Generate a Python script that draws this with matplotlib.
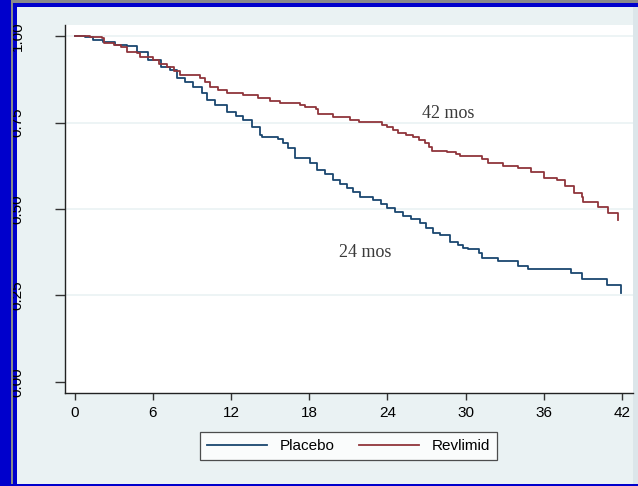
import matplotlib
matplotlib.use("Agg")
import matplotlib.pyplot as plt
from matplotlib.patches import Rectangle

# Kaplan-Meier step knots (months, survival)
placebo_t = [0, 0.8, 1.4, 2.2, 3.1, 4.0, 4.8, 5.6, 6.6, 7.3, 7.9, 8.5, 9.1, 9.8,
             10.2, 10.8, 11.7, 12.4, 12.9, 13.6, 14.2, 14.4, 15.6, 16.0, 16.4, 16.9,
             18.1, 18.6, 19.2, 19.8, 20.4, 20.9, 21.4, 21.9, 22.9, 23.5, 24.0, 24.6,
             25.2, 25.8, 26.5, 27.0, 27.5, 28.05, 28.8, 29.4, 29.8, 30.2, 31.0, 31.3,
             32.5, 34.0, 34.8, 38.1, 38.9, 40.85, 41.9]
placebo_s = [1.0, 0.997, 0.988, 0.983, 0.974, 0.971, 0.954, 0.931, 0.910, 0.902, 0.879,
             0.866, 0.853, 0.835, 0.815, 0.800, 0.780, 0.770, 0.757, 0.737, 0.714, 0.708,
             0.702, 0.690, 0.676, 0.647, 0.633, 0.613, 0.600, 0.584, 0.572, 0.561, 0.548,
             0.535, 0.526, 0.515, 0.503, 0.492, 0.480, 0.470, 0.460, 0.445, 0.431, 0.425,
             0.405, 0.396, 0.387, 0.384, 0.373, 0.358, 0.350, 0.335, 0.327, 0.315, 0.298,
             0.280, 0.257]

revlimid_t = [0, 1.2, 2.1, 2.3, 3.0, 3.6, 4.0, 4.8, 5.0, 6.0, 6.5, 7.1, 7.6, 8.1, 9.6,
              10.0, 10.4, 11.0, 11.7, 12.9, 14.1, 15.0, 15.8, 17.3, 17.7, 18.5, 18.7,
              19.8, 21.1, 21.8, 23.6, 24.0, 24.4, 24.8, 25.4, 26.0, 26.4, 26.9, 27.2,
              27.4, 28.6, 29.3, 29.6, 31.3, 31.7, 32.9, 34.0, 35.0, 36.0, 37.0, 37.6,
              38.3, 38.9, 39.0, 40.2, 40.9, 41.7]
revlimid_s = [1.0, 0.997, 0.994, 0.980, 0.974, 0.968, 0.954, 0.951, 0.939, 0.931, 0.920,
              0.910, 0.898, 0.887, 0.879, 0.866, 0.853, 0.843, 0.835, 0.829, 0.821, 0.812,
              0.806, 0.800, 0.795, 0.789, 0.775, 0.766, 0.757, 0.751, 0.743, 0.737, 0.728,
              0.720, 0.714, 0.708, 0.699, 0.691, 0.679, 0.668, 0.665, 0.659, 0.653, 0.645,
              0.633, 0.624, 0.618, 0.607, 0.590, 0.584, 0.566, 0.546, 0.535, 0.520, 0.506,
              0.488, 0.468]

x_ticks = [0, 6, 12, 18, 24, 30, 36, 42]
y_ticks = [0.0, 0.25, 0.5, 0.75, 1.0]
y_labels = ["0.00", "0.25", "0.50", "0.75", "1.00"]

bg = "#EAF2F3"
blue = "#1A476F"
red = "#90353B"

plt.rcParams["font.family"] = ["Liberation Sans", "DejaVu Sans"]

fig = plt.figure(figsize=(6.38, 4.86), dpi=100, facecolor=bg)
ax = fig.add_axes([65 / 638, 1 - 393 / 486, 568 / 638, 368 / 486])
ax.set_facecolor("white")

ax.plot(placebo_t, placebo_s, drawstyle="steps-post", color=blue, lw=1.3, label="Placebo")
ax.plot(revlimid_t, revlimid_s, drawstyle="steps-post", color=red, lw=1.3, label="Revlimid")

ax.set_xlim(-0.73, 42.85)
ax.set_ylim(-0.032, 1.032)
ax.set_xticks(x_ticks)
ax.set_yticks(y_ticks)
ax.set_yticklabels(y_labels)

for side in ["top", "right"]:
    ax.spines[side].set_visible(False)
for side in ["left", "bottom"]:
    ax.spines[side].set_color("#222222")
    ax.spines[side].set_linewidth(1.0)

ax.tick_params(axis="x", length=5, width=1, color="#333333", labelsize=11, pad=4)
ax.tick_params(axis="y", length=7, width=1, color="#333333", labelsize=11,
               labelrotation=90, pad=22)
for lab in ax.get_yticklabels():
    lab.set_verticalalignment("center")

ax.yaxis.grid(True, color=bg, lw=1.2)
ax.get_ygridlines()[0].set_visible(False)
ax.set_axisbelow(True)

ax.text(28.66, 0.777, "42 mos", family="Liberation Serif", fontsize=13,
        color="#3a3a3a", ha="center", va="center")
ax.text(22.33, 0.373, "24 mos", family="Liberation Serif", fontsize=13,
        color="#3a3a3a", ha="center", va="center")

leg = ax.legend(loc="center", bbox_to_anchor=(348.5 / 638, 1 - 446 / 486),
                bbox_transform=fig.transFigure, ncol=2, fontsize=11, frameon=True,
                fancybox=False, handlelength=3.9, handletextpad=0.85,
                columnspacing=1.6, borderpad=0.45, borderaxespad=0)
leg.get_frame().set_edgecolor("#222222")
leg.get_frame().set_linewidth(0.9)
leg.get_frame().set_facecolor("white")


def px_rect(x0, y0, x1, y1, color, z):
    # rectangle given in pixel coords from the top-left corner
    fig.add_artist(Rectangle((x0 / 638, 1 - y1 / 486), (x1 - x0) / 638, (y1 - y0) / 486,
                             transform=fig.transFigure, facecolor=color,
                             edgecolor="none", zorder=z))


border_blue = "#0000CC"
px_rect(13, 3, 17, 486, border_blue, -1)
px_rect(633, 7, 638, 484, "#DCE6EA", -1)
px_rect(0, 0, 638, 3, "#8a8a8a", 20)
px_rect(0, 3, 638, 7, border_blue, 20)
px_rect(0, 0, 11, 486, border_blue, 20)
px_rect(11, 0, 13, 486, "#8a8a8a", 20)
px_rect(0, 484, 638, 486, border_blue, 20)

fig.savefig("out.png", dpi=100, facecolor=bg)
